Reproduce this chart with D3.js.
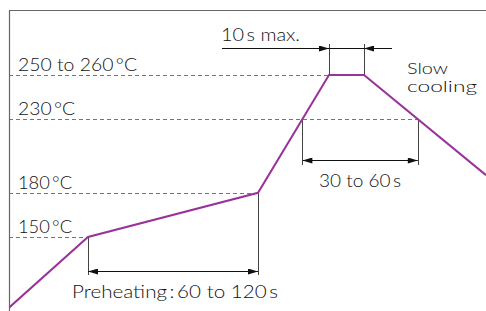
<!DOCTYPE html>
<html>
<head>
<meta charset="utf-8">
<script src="https://cdn.jsdelivr.net/npm/d3@7"></script>
<style>
  body { margin: 0; background: #fff; }
  text { font-family: Lato, "Noto Sans", sans-serif; font-weight: 300; fill: #111; }
</style>
</head>
<body>
<div id="chart"></div>
<script>
// profile (schematic time in s, temperature in degC)
var profileTime = [0, 39.5, 124.5, 160, 177.5, 238.5];
var profileTemp = [102, 150, 180, 260, 260, 192];

// reference temperatures and their labels
var refTemps = [150, 180, 230, 260];
var refLabels = ["150\u2009\u00b0C", "180\u2009\u00b0C", "230\u2009\u00b0C", "250 to 260\u2009\u00b0C"];

// annotation texts
var preheatLabel = "Preheating\u2009:\u200960 to 120\u2009s";
var peakLabel = "30 to 60\u2009s";
var maxLabel = "10\u2009s max.";
var coolLabel = ["Slow", "cooling"];

var width = 486;
var height = 311;

//
// Scales
//
var x = d3.scaleLinear().domain([0, 238.5]).range([9, 486]);
var y = d3.scaleLinear().domain([150, 260]).range([237, 75]);

var svg = d3.select("#chart").append("svg")
    .attr("width", width)
    .attr("height", height);

var defs = svg.append("defs");
defs.append("marker")
    .attr("id", "arr")
    .attr("viewBox", "0 0 10 6")
    .attr("refX", 10).attr("refY", 3)
    .attr("markerWidth", 11).attr("markerHeight", 6)
    .attr("markerUnits", "userSpaceOnUse")
    .attr("orient", "auto-start-reverse")
  .append("path")
    .attr("d", "M0,0L10,3L0,6Z")
    .attr("fill", "#111");

defs.append("clipPath").attr("id", "clip")
  .append("rect").attr("x", 9).attr("y", 10).attr("width", width - 9).attr("height", height - 10);

var pts = profileTime.map(function(t, i) { return [t, profileTemp[i]]; });

// time where a segment crosses a temperature
function crossTime(i, T) {
    var a = pts[i], b = pts[i + 1];
    return a[0] + (T - a[1]) / (b[1] - a[1]) * (b[0] - a[0]);
}
var rise230 = crossTime(2, 230);
var fall230 = crossTime(4, 230);

// dashed reference lines, ending at the profile
var dashEnd = [profileTime[1], profileTime[2], fall230, profileTime[3]];
svg.selectAll(".ref")
    .data(refTemps)
  .enter().append("line")
    .attr("x1", x(0))
    .attr("x2", function(d, i) { return x(dashEnd[i]); })
    .attr("y1", function(d) { return Math.round(y(d)) + 0.5; })
    .attr("y2", function(d) { return Math.round(y(d)) + 0.5; })
    .attr("stroke", "#5f7f7c")
    .attr("stroke-width", 1)
    .attr("stroke-dasharray", "4,3");

var labelWidths = [54, 54, 57, 119];
svg.selectAll(".reflabel")
    .data(refTemps)
  .enter().append("text")
    .attr("x", 18)
    .attr("y", function(d) { return y(d) - 4; })
    .attr("font-size", 18)
    .attr("textLength", function(d, i) { return labelWidths[i]; })
    .attr("lengthAdjust", "spacingAndGlyphs")
    .text(function(d, i) { return refLabels[i]; });

// frame
svg.append("path")
    .attr("d", "M9.5," + height + "V10.5H" + width)
    .attr("fill", "none")
    .attr("stroke", "#666")
    .attr("stroke-width", 1.2);

// extension lines
function vline(t, y1, y2) {
    svg.append("line")
        .attr("x1", Math.round(x(t)) + 0.5).attr("x2", Math.round(x(t)) + 0.5)
        .attr("y1", y1).attr("y2", y2)
        .attr("stroke", "#444").attr("stroke-width", 1);
}
vline(profileTime[1], y(150), 275);
vline(profileTime[2], y(180), 275);
vline(rise230, y(230), 165);
vline(fall230, y(230), 165);
vline(profileTime[3], 44, y(260));
vline(profileTime[4], 44, y(260));

function hline(x1, x2, yy, start, end) {
    var l = svg.append("line")
        .attr("x1", x1).attr("x2", x2)
        .attr("y1", yy + 0.5).attr("y2", yy + 0.5)
        .attr("stroke", "#111").attr("stroke-width", 1);
    if (start) l.attr("marker-start", "url(#arr)");
    if (end) l.attr("marker-end", "url(#arr)");
}
hline(x(profileTime[1]), x(profileTime[2]), 271, true, true);
hline(x(rise230), x(fall230), 160, true, true);
hline(222, x(profileTime[3]), 48, false, true);
hline(x(profileTime[3]), x(profileTime[4]), 48, false, false);
hline(392, x(profileTime[4]), 48, false, true);

// profile
svg.append("path")
    .datum(pts)
    .attr("clip-path", "url(#clip)")
    .attr("fill", "none")
    .attr("stroke", "#993399")
    .attr("stroke-width", 2)
    .attr("stroke-linejoin", "miter")
    .attr("d", d3.line().x(function(d) { return x(d[0]); }).y(function(d) { return y(d[1]); }));

// annotations
svg.append("text")
    .attr("x", 72).attr("y", 298)
    .attr("font-size", 18)
    .attr("textLength", 206).attr("lengthAdjust", "spacingAndGlyphs")
    .text(preheatLabel);

svg.append("text")
    .attr("x", 319).attr("y", 187)
    .attr("font-size", 18)
    .attr("textLength", 82).attr("lengthAdjust", "spacingAndGlyphs")
    .text(peakLabel);

svg.append("text")
    .attr("x", 221).attr("y", 41)
    .attr("font-size", 18)
    .attr("textLength", 79).attr("lengthAdjust", "spacingAndGlyphs")
    .text(maxLabel);

var coolWidths = [41, 70];
svg.selectAll(".cool")
    .data(coolLabel)
  .enter().append("text")
    .attr("x", 407)
    .attr("y", function(d, i) { return 74 + i * 17.5; })
    .attr("font-size", 16.5)
    .attr("textLength", function(d, i) { return coolWidths[i]; })
    .attr("lengthAdjust", "spacingAndGlyphs")
    .text(function(d) { return d; });
</script>
</body>
</html>
